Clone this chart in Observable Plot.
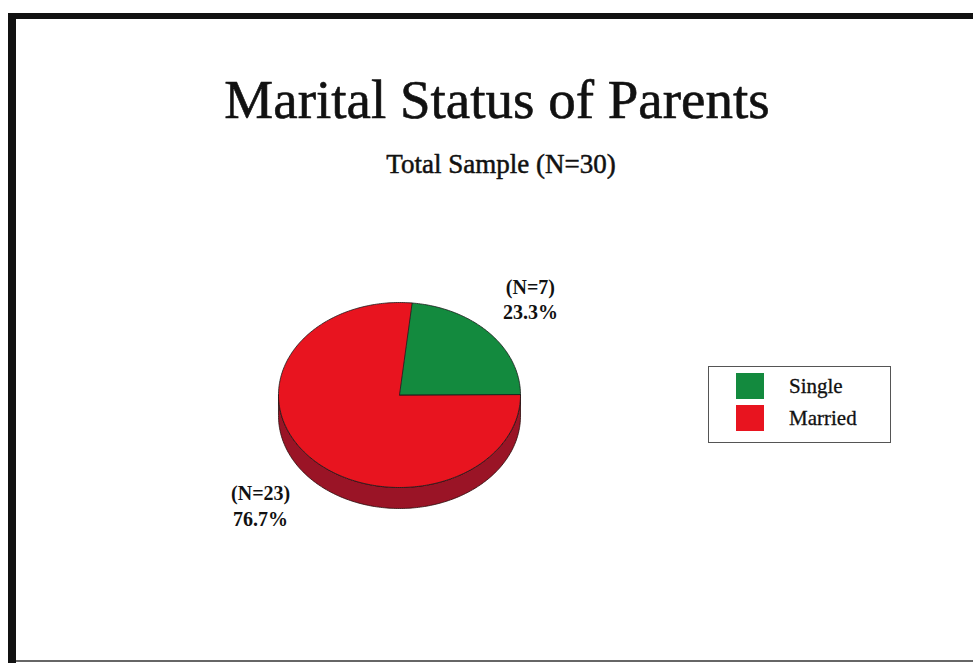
<!DOCTYPE html>
<html>
<head>
<meta charset="utf-8">
<script src="https://cdn.jsdelivr.net/npm/d3@7"></script>
<script src="https://cdn.jsdelivr.net/npm/@observablehq/plot@0.6"></script>
<style>
  html, body { margin: 0; padding: 0; background: #fff; }
  #wrap { position: relative; width: 973px; height: 663px; overflow: hidden; font-family: "Liberation Serif", "Times New Roman", serif; }
  #wrap svg { position: absolute; left: 0; top: 0; }
  .frame-top { position: absolute; left: 8px; top: 13px; width: 965px; height: 6px; background: #111; }
  .frame-left { position: absolute; left: 8px; top: 13px; width: 8px; height: 650px; background: #111; }
  .frame-bottom { position: absolute; left: 16px; top: 660px; width: 957px; height: 2px; background: #666; }
  #legend { position: absolute; left: 708px; top: 366px; width: 183px; height: 77px; border: 1px solid #555; box-sizing: border-box; background: #fff; }
  #legend .sw { position: absolute; left: 27px; width: 28px; height: 26px; }
  #legend .lb { position: absolute; left: 80px; font-size: 21px; line-height: 1; color: #111; -webkit-text-stroke: 0.3px #111; }
</style>
</head>
<body>
<div id="wrap">
  <div id="legend"></div>
  <div class="frame-top"></div>
  <div class="frame-left"></div>
  <div class="frame-bottom"></div>
</div>
<script>
// ---- data ----
const categories = ["Single", "Married"];
const counts = [7, 23];
const nLabels = ["(N=7)", "(N=23)"];
const pctLabels = ["23.3%", "76.7%"];
const titleText = "Marital Status of Parents";
const subtitleText = "Total Sample (N=30)";

// ---- geometry (unit circle, projected by the x/y scales into an ellipse) ----
const total = d3.sum(counts);
const depth = 0.227;           // side thickness in y-units
const step = Math.PI / 180;
let start = 0;
const slices = categories.map((c, i) => {
  const a0 = start, a1 = start + 2 * Math.PI * counts[i] / total;
  start = a1;
  return {cat: c, a0, a1, mid: (a0 + a1) / 2, n: nLabels[i], pct: pctLabels[i]};
});

const topPts = [];
const sidePts = [];
for (const s of slices) {
  topPts.push({cat: s.cat, x: 0, y: 0});
  const n = Math.max(2, Math.ceil((s.a1 - s.a0) / step));
  for (let k = 0; k <= n; k++) {
    const a = s.a0 + (s.a1 - s.a0) * k / n;
    topPts.push({cat: s.cat, x: Math.cos(a), y: Math.sin(a)});
  }
  // visible side: part of the slice in the front half (pi..2pi)
  const b0 = Math.max(s.a0, Math.PI), b1 = Math.min(s.a1, 2 * Math.PI);
  if (b1 > b0) {
    const m = Math.max(2, Math.ceil((b1 - b0) / step));
    const upper = [], lower = [];
    for (let k = 0; k <= m; k++) {
      const a = b0 + (b1 - b0) * k / m;
      upper.push({cat: s.cat, x: Math.cos(a), y: Math.sin(a)});
      lower.push({cat: s.cat, x: Math.cos(a), y: Math.sin(a) - depth});
    }
    sidePts.push(...upper, ...lower.reverse());
  }
}

const labels = slices.map(s => {
  const sy = Math.sin(s.mid);
  return {
    x: 1.5 * Math.cos(s.mid),
    y: 1.5 * sy - (sy < 0 ? depth : 0),
    text: s.n + "\n" + s.pct
  };
});

const pieColors = ["#138a3e", "#e8141f"];
const sideColor = "#9a1426";

const chart = Plot.plot({
  width: 973,
  height: 663,
  margin: 0,
  x: {domain: [-1, 1], range: [278, 520], axis: null},
  y: {domain: [-1, 1], range: [487, 302], axis: null},
  color: {domain: categories, range: pieColors},
  style: {fontFamily: "Liberation Serif, Times New Roman, serif", background: "transparent", overflow: "visible", color: "#111"},
  marks: [
    Plot.line(sidePts, {x: "x", y: "y", z: "cat", fill: sideColor, stroke: "#2a0a0a", strokeWidth: 0.8, curve: "linear-closed"}),
    Plot.line(topPts, {x: "x", y: "y", z: "cat", fill: "cat", stroke: "#1a1a1a", strokeWidth: 0.8, curve: "linear-closed"}),
    Plot.text(labels, {x: "x", y: "y", text: "text", fontSize: 20, fontWeight: "bold", lineHeight: 1.28, lineAnchor: "middle", dx: -4, dy: -4, fill: "#111"}),
    Plot.text([titleText], {text: d => d, frameAnchor: "top", dx: 10, dy: 117, lineAnchor: "bottom", fontSize: 55, fill: "#111", stroke: "#111", strokeWidth: 0.6}),
    Plot.text([subtitleText], {text: d => d, frameAnchor: "top", dx: 14, dy: 172, lineAnchor: "bottom", fontSize: 27, fill: "#111", stroke: "#111", strokeWidth: 0.5})
  ]
});

const wrap = document.getElementById("wrap");
wrap.insertBefore(chart, wrap.firstChild);

// legend built from the chart's own color scale
const colorScale = chart.scale("color");
const legend = document.getElementById("legend");
categories.forEach((c, i) => {
  const sw = document.createElement("div");
  sw.className = "sw";
  sw.style.top = (6 + i * 32) + "px";
  sw.style.background = colorScale.apply(c);
  legend.appendChild(sw);
  const lb = document.createElement("div");
  lb.className = "lb";
  lb.style.top = (9 + i * 32) + "px";
  lb.textContent = c;
  legend.appendChild(lb);
});
</script>
</body>
</html>
